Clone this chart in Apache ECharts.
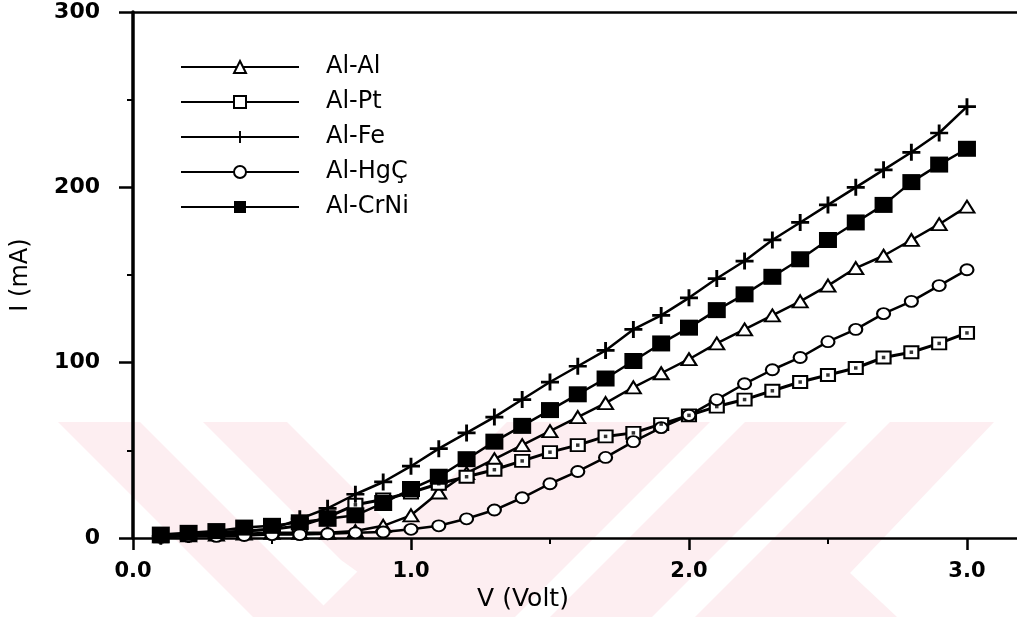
<!DOCTYPE html>
<html>
<head>
<meta charset="utf-8">
<title>I-V</title>
<script src="https://cdn.jsdelivr.net/npm/echarts@6/dist/echarts.min.js"></script>
<style>
  html, body { margin: 0; padding: 0; background: #fff; overflow: hidden; }
  #chart { width: 1017px; height: 617px; }
</style>
</head>
<body>
<div id="chart"></div>
<script>
// Voltage steps (V)
const volts = [0.1, 0.2, 0.3, 0.4, 0.5, 0.6, 0.7, 0.8, 0.9, 1.0,
               1.1, 1.2, 1.3, 1.4, 1.5, 1.6, 1.7, 1.8, 1.9, 2.0,
               2.1, 2.2, 2.3, 2.4, 2.5, 2.6, 2.7, 2.8, 2.9, 3.0];

// Current (mA) for each contact pair
const alAl   = [1, 1.5, 2, 2.5, 3, 3, 3, 4, 7, 13, 26, 37, 45, 53, 61, 69, 77, 86, 94, 102,
                111, 119, 127, 135, 144, 154, 161, 170, 179, 189];
const alPt   = [1, 2, 3, 4, 5, 7, 12, 19, 22, 26, 31, 35, 39, 44, 49, 53, 58, 60, 65, 70,
                75, 79, 84, 89, 93, 97, 103, 106, 111, 117];
const alFe   = [1, 2, 3, 4, 5, 11, 17, 25, 32, 41, 51, 60, 69, 79, 89, 98, 107, 119, 127, 137,
                148, 158, 170, 180, 190, 200, 210, 220, 231, 246];
const alHgC  = [0.5, 1, 1, 1.5, 2, 2, 2.5, 3, 3.5, 5, 7, 11, 16, 23, 31, 38, 46, 55, 63, 70,
                79, 88, 96, 103, 112, 119, 128, 135, 144, 153];
const alCrNi = [2, 3, 4, 6, 7, 9, 11, 13, 20, 28, 35, 45, 55, 64, 73, 82, 91, 101, 111, 120,
                130, 139, 149, 159, 170, 180, 190, 203, 213, 222];

const seriesNames = ['Al-Al', 'Al-Pt', 'Al-Fe', 'Al-HgÇ', 'Al-CrNi'];
const xTickValues = [0, 1, 2, 3];
const xTickLabels = ['0.0', '1.0', '2.0', '3.0'];
const xHalfTicks = [0.5, 1.5, 2.5];
const yTickLabels = ['0', '100', '200', '300'];

const pairs = arr => volts.map((v, i) => [v, arr[i]]);

const plusPath = 'path://M42,0H58V42H100V58H58V100H42V58H0V42H42Z';
const ink = '#000';
const X_MAX = 3.18;

function lineSeries(name, data, symbol, size, opts) {
  opts = opts || {};
  return {
    name: name,
    type: 'line',
    data: pairs(data),
    symbol: symbol,
    symbolSize: size,
    showAllSymbol: true,
    lineStyle: { color: ink, width: opts.lw || 2.5 },
    itemStyle: { color: ink, borderColor: ink, borderWidth: opts.bw === undefined ? 2.2 : opts.bw },
    emphasis: { disabled: true },
    z: 3
  };
}

// faint diagonal stripes of the page watermark
const pink = '#fdeef1';
const stripes = [
  [[58, 422], [140, 422], [335, 617], [253, 617]],
  [[203, 422], [287, 422], [425, 560], [383, 590], [341, 560]],
  [[507, 422], [710, 422], [515, 617], [312, 617]],
  [[745, 422], [847, 422], [652, 617], [550, 617]],
  [[890, 422], [994, 422], [850, 573], [897, 617], [695, 617]]
].map(pts => ({
  type: 'polygon',
  silent: true,
  z: -10,
  shape: { points: pts },
  style: { fill: pink }
}));

const axisFont = { fontFamily: 'DejaVu Sans', color: ink };
const noSplit = { show: false };

const chart = echarts.init(document.getElementById('chart'), null, { renderer: 'canvas' });

chart.setOption({
  animation: false,
  backgroundColor: '#fff',
  graphic: stripes,
  grid: { left: 133, top: 12, right: 0, height: 527 },
  legend: {
    data: seriesNames,
    orient: 'vertical',
    left: 175,
    top: 50,
    itemWidth: 118,
    itemHeight: 15,
    itemGap: 11,
    selectedMode: false,
    textStyle: Object.assign({ fontSize: 24, lineHeight: 24, padding: [0, 0, 0, 22] }, axisFont)
  },
  xAxis: [
    {
      type: 'value',
      min: 0, max: X_MAX, interval: 1,
      position: 'bottom',
      name: 'V (Volt)',
      nameLocation: 'middle',
      nameGap: 38,
      nameTextStyle: Object.assign({ fontSize: 25, padding: [0, 104, 0, 0] }, axisFont),
      axisLine: { show: true, onZero: false, lineStyle: { color: ink, width: 2.5 } },
      axisTick: { show: true, length: 12, customValues: xTickValues, lineStyle: { color: ink, width: 2.5 } },
      splitLine: noSplit,
      axisLabel: Object.assign({
        margin: 23, fontWeight: 'bold', fontSize: 21,
        customValues: xTickValues,
        formatter: v => {
          const i = xTickValues.indexOf(v);
          return i >= 0 ? xTickLabels[i] : '';
        }
      }, axisFont)
    },
    {
      // half-volt ticks
      type: 'value',
      min: 0, max: X_MAX, interval: 0.5,
      position: 'bottom',
      axisLine: { show: false, onZero: false },
      axisTick: { show: true, length: 6, customValues: xHalfTicks, lineStyle: { color: ink, width: 2 } },
      axisLabel: { show: false },
      splitLine: noSplit
    },
    {
      // upper frame line
      type: 'value',
      min: 0, max: X_MAX,
      position: 'top',
      axisLine: { show: true, onZero: false, lineStyle: { color: ink, width: 2.5 } },
      axisTick: { show: false },
      axisLabel: { show: false },
      splitLine: noSplit
    }
  ],
  yAxis: {
    type: 'value',
    min: 0, max: 300, interval: 100,
    name: 'I (mA)',
    nameLocation: 'middle',
    nameGap: 100,
    nameTextStyle: Object.assign({ fontSize: 24 }, axisFont),
    axisLine: { show: true, lineStyle: { color: ink, width: 3.5 } },
    axisTick: { show: true, length: 14, lineStyle: { color: ink, width: 2.5 } },
    minorTick: { show: true, splitNumber: 2, length: 6, lineStyle: { color: ink, width: 2 } },
    splitLine: noSplit,
    minorSplitLine: noSplit,
    axisLabel: Object.assign({
      margin: 33, fontWeight: 'bold', fontSize: 22,
      formatter: v => yTickLabels[Math.round(v / 100)] || ''
    }, axisFont)
  },
  series: [
    lineSeries('Al-Al', alAl, 'emptyTriangle', [15, 12]),
    lineSeries('Al-Pt', alPt, 'emptyRect', [14, 12], { lw: 3 }),
    lineSeries('Al-Fe', alFe, plusPath, [18, 17], { bw: 0 }),
    lineSeries('Al-HgÇ', alHgC, 'emptyCircle', [13, 11]),
    lineSeries('Al-CrNi', alCrNi, 'rect', [18, 16], { bw: 0 }),
    {
      // centre dots inside the Al-Pt squares
      name: 'Al-Pt centre',
      type: 'scatter',
      data: pairs(alPt),
      symbol: 'rect',
      symbolSize: 3.5,
      itemStyle: { color: ink },
      silent: true,
      z: 5
    }
  ]
});
</script>
</body>
</html>
